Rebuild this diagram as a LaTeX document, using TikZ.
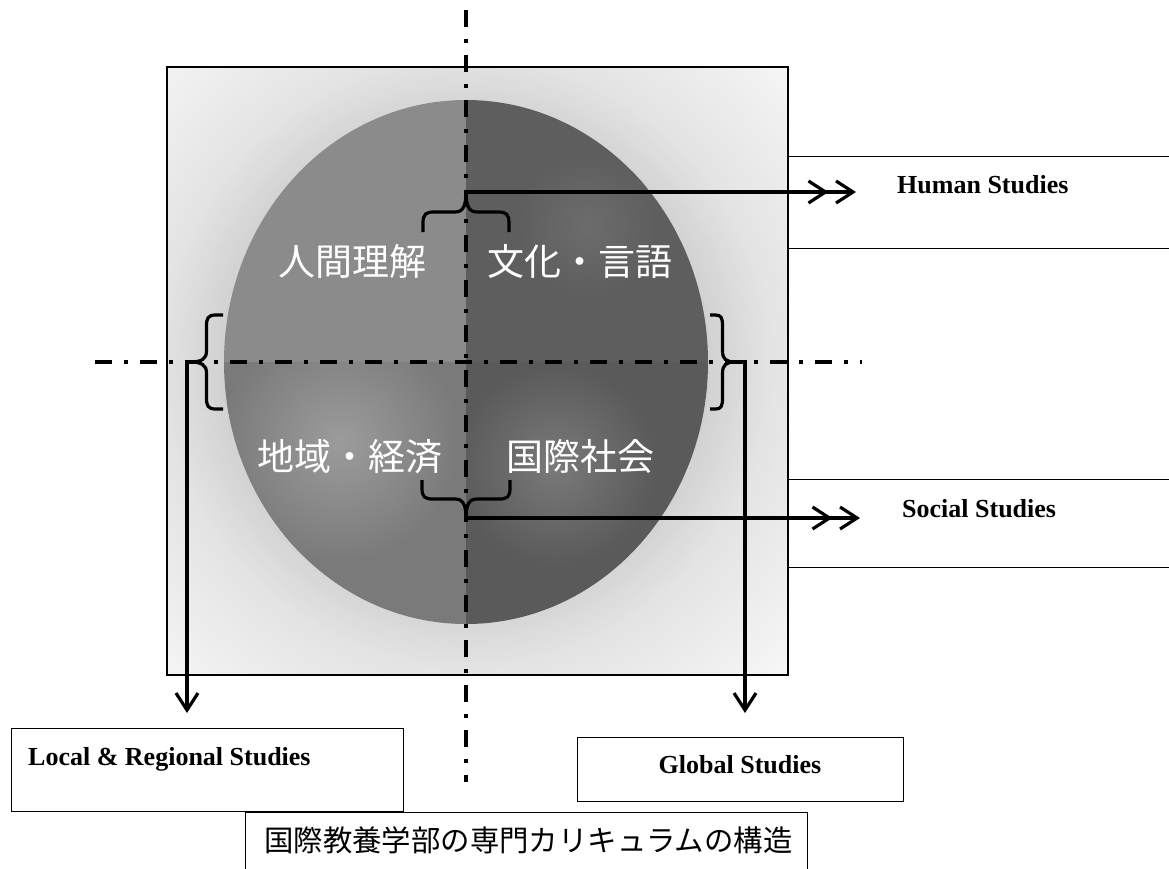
\documentclass[tikz,border=0pt]{standalone}
\usepackage{fontspec}
\setmainfont{Liberation Serif}
\newfontfamily\jpfont{Noto Sans CJK JP}
\usetikzlibrary{arrows.meta}
\definecolor{ulq}{HTML}{8B8B8B}
\definecolor{llq}{HTML}{7A7A7A}
\definecolor{urq}{HTML}{5E5E5E}
\definecolor{lrq}{HTML}{5A5A5A}
\definecolor{sqA}{HTML}{D0D0D0}
\definecolor{sqC}{HTML}{E4E4E4}
\definecolor{sqD}{HTML}{F7F7F7}
\tikzset{
  boxst/.style={draw=black, line width=1.4pt, fill=white, inner sep=0pt, anchor=north west},
  lab/.style={font=\fontsize{26}{30}\selectfont\bfseries, inner sep=0pt},
  jpw/.style={font=\jpfont\fontsize{37}{40}\selectfont, text=white, inner sep=0pt, anchor=base},
  caption/.style={font=\jpfont\fontsize{29.4}{32}\selectfont, inner sep=0pt, anchor=base west},
  dashdot/.style={line width=3.5pt, dash pattern=on 17pt off 12pt on 4pt off 12pt},
  braceline/.style={line width=3.2pt},
  arrone/.style={line width=3.2pt, -{Straight Barb[length=17pt,width=22pt]}},
  arrtwo/.style={line width=3.2pt, -{Straight Barb[length=17pt,width=22pt,sep=6pt]Straight Barb[length=17pt,width=22pt]}},
  pics/cbrace/.style 2 args={code={
    \draw[braceline] (-#1,#2) -- (-#1,{0.78*#2})
      .. controls (-#1,{0.55*#2}) and ({-#1+3},{0.5*#2}) .. ({-#1+11},{0.5*#2})
      -- (-11,{0.5*#2})
      .. controls (-3,{0.5*#2}) and (0,{0.35*#2}) .. (0,0)
      .. controls (0,{0.35*#2}) and (3,{0.5*#2}) .. (11,{0.5*#2})
      -- ({#1-11},{0.5*#2})
      .. controls ({#1-3},{0.5*#2}) and (#1,{0.55*#2}) .. (#1,{0.78*#2})
      -- (#1,#2);
    \coordinate (-tip) at (0,0);
  }}
}
\begin{document}
\begin{tikzpicture}[x=1pt,y=-1pt]
\useasboundingbox (0,0) rectangle (1169,868);
\clip (0,0) rectangle (1169,868);
\fill[white] (0,0) rectangle (1169,868);
% background square with stepped radial gradient
\begin{scope}
  \clip (167,67) rectangle (788,675);
  \fill[sqD] (167,67) rectangle (788,675);
  \foreach \i in {0,...,28} {
    \pgfmathsetmacro{\rr}{450-5*\i}
    \pgfmathsetmacro{\mx}{100*\i/28}
    \fill[sqC!\mx!sqD] (466,362) circle (\rr);
  }
  \foreach \i in {0,...,14} {
    \pgfmathsetmacro{\rr}{310-5*\i}
    \pgfmathsetmacro{\mx}{100*\i/14}
    \fill[sqA!\mx!sqC] (466,362) circle (\rr);
  }
\end{scope}
\draw[line width=1.4pt] (167,67) rectangle (788,675);
% ellipse quadrants
\begin{scope}
  \clip (466,362) ellipse [x radius=242, y radius=262];
  \fill[ulq] (200,80) rectangle (466,362);
  \fill[llq] (200,362) rectangle (466,640);
  \fill[urq] (466,80) rectangle (730,362);
  \fill[lrq] (466,362) rectangle (730,640);
  \begin{scope}
    \clip (200,362) rectangle (466,640);
    \shade[inner color=gray!78!white, outer color=llq] (340,442) circle (120);
  \end{scope}
  \begin{scope}
    \clip (466,362) rectangle (730,640);
    \shade[inner color=gray!90!black!95!white, outer color=lrq] (556,465) circle (100);
  \end{scope}
  \begin{scope}
    \clip (466,80) rectangle (730,362);
    \shade[inner color=gray!85!black, outer color=urq] (587,225) circle (70);
  \end{scope}
\end{scope}
% dash-dot axes
\draw[dashdot] (466,10) -- (466,782);
\draw[dashdot] (95,362) -- (862,362);
% quadrant labels
\node[jpw] (q1) at (352,275) {人間理解};
\node[jpw] (q2) at (580,275) {文化・言語};
\node[jpw] (q3) at (350,470) {地域・経済};
\node[jpw] (q4) at (580,470) {国際社会};
% boxes
\node[boxst, minimum width=420, minimum height=92] (hs) at (788,156) {};
\node[lab, anchor=base west] (hst) at (897,193) {Human Studies};
\node[boxst, minimum width=420, minimum height=88] (ss) at (788,479) {};
\node[lab, anchor=base west] (sst) at (902,517) {Social Studies};
\node[boxst, minimum width=392, minimum height=83] (lr) at (11,728) {};
\node[lab, anchor=base west] (lrt) at (28,765) {Local \& Regional Studies};
\node[boxst, minimum width=326, minimum height=64] (gs) at (577,737) {};
\node[lab, anchor=base] (gst) at (740,773) {Global Studies};
\node[boxst, minimum width=562, minimum height=80] (cap) at (245,812) {};
\node[caption] (capt) at (264,851) {国際教養学部の専門カリキュラムの構造};
% braces
\pic (tb) at (466,192) {cbrace={43}{40}};
\pic[rotate=180] (bb) at (466,518) {cbrace={44}{38}};
\pic[rotate=90] (lb) at (190,362) {cbrace={47}{33}};
\pic[rotate=-90] (rb) at (735,362) {cbrace={47}{25}};
% arrow end points
\coordinate (hsend) at (856,192);
\coordinate (ssend) at (860,518);
\coordinate (lrend) at (187,713);
\coordinate (gsend) at (745,713);
% arrows
\draw[arrtwo] (tb-tip) -- (hsend);
\draw[arrtwo] (bb-tip) -- (ssend);
\draw[arrone] (lb-tip) -| (lrend);
\draw[arrone] (rb-tip) -| (gsend);
\end{tikzpicture}
\end{document}
